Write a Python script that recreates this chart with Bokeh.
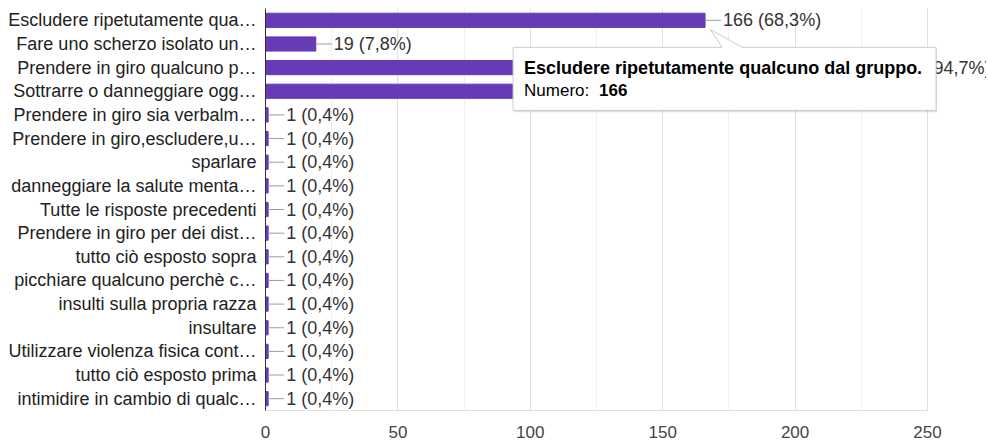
from bokeh.plotting import figure
from bokeh.models import FactorRange, Range1d, FixedTicker
from bokeh.embed import file_html
from bokeh.resources import INLINE
from bokeh.core.properties import value

# ---------------- data ----------------
categories = [
    "Escludere ripetutamente qua…",
    "Fare uno scherzo isolato un…",
    "Prendere in giro qualcuno p…",
    "Sottrarre o danneggiare ogg…",
    "Prendere in giro sia verbalm…",
    "Prendere in giro,escludere,u…",
    "sparlare",
    "danneggiare la salute menta…",
    "Tutte le risposte precedenti",
    "Prendere in giro per dei dist…",
    "tutto ciò esposto sopra",
    "picchiare qualcuno perchè c…",
    "insulti sulla propria razza",
    "insultare",
    "Utilizzare violenza fisica cont…",
    "tutto ciò esposto prima",
    "intimidire in cambio di qualc…",
]
counts = [166, 19, 230, 173, 1, 1, 1, 1, 1, 1, 1, 1, 1, 1, 1, 1, 1]
total_responses = 243
x_ticks = [0, 50, 100, 150, 200, 250]
x_minor_ticks = [25, 75, 125, 175, 225]
tooltip_index = 0
tooltip_title = "Escludere ripetutamente qualcuno dal gruppo."
tooltip_key = "Numero: "

labels = [
    ("%d (%.1f%%)" % (c, c * 100.0 / total_responses)).replace(".", ",")
    for c in counts
]

# ---------------- layout ----------------
W, H = 986, 440
BL, BT, BB = 265, 8, 30
X_PIX_250 = 662                       # pixel length of the 0..250 span
frame_w = W - BL
frame_h = H - BT - BB
ppu = X_PIX_250 / x_ticks[-1]         # pixels per x unit
X_END = frame_w / ppu
ppc = frame_h / len(categories)       # pixels per category
FONT = value("Liberation Sans")

p = figure(
    width=W, height=H,
    y_range=FactorRange(factors=categories[::-1]),
    x_range=Range1d(0, X_END),
    output_backend="svg", toolbar_location=None,
    min_border_left=BL, min_border_right=0, min_border_top=BT, min_border_bottom=BB,
)
p.outline_line_color = None
p.background_fill_color = "white"

p.hbar(y=categories, right=counts, height=0.6, color="#673ab7")

leader = 16 / ppu
p.segment(x0=counts, y0=categories, x1=[c + leader for c in counts], y1=categories,
          line_color="#9e9e9e", line_width=1)
p.text(x=counts, y=categories, text=labels, x_offset=18, text_baseline="middle",
       text_font=FONT, text_font_size="18px", text_color="#333333")

# ---------------- tooltip ----------------
n = len(categories)
ax = counts[tooltip_index]
ay = n - 0.5 - tooltip_index


def pt(dx, dy):
    return ax + dx / ppu, ay - dy / ppc


box = [(-192, 27), (17, 27), (5, 9), (37, 27), (231, 27), (231, 90), (-192, 90)]
sh = [pt(dx + 1, dy + 2) for dx, dy in box]
p.patch([q[0] for q in sh], [q[1] for q in sh], fill_color="black", fill_alpha=0.12,
        line_color=None)
bx = [pt(dx, dy) for dx, dy in box]
p.patch([q[0] for q in bx], [q[1] for q in bx], fill_color="white",
        line_color="#cccccc", line_width=1)

tx, ty1 = pt(-181, 48)
_, ty2 = pt(-181, 70)
p.text(x=[tx], y=[ty1], text=[tooltip_title], text_baseline="middle",
       text_font=FONT, text_font_size="18px", text_font_style="bold", text_color="#000000")
p.text(x=[tx], y=[ty2], text=[tooltip_key], text_baseline="middle",
       text_font=FONT, text_font_size="17px", text_color="#000000")
p.text(x=[tx], y=[ty2], text=[str(counts[tooltip_index])], x_offset=75, text_baseline="middle",
       text_font=FONT, text_font_size="17px", text_font_style="bold", text_color="#000000")

# ---------------- axes / grid ----------------
p.yaxis.major_tick_line_color = None
p.yaxis.minor_tick_line_color = None
p.yaxis.axis_line_color = "#333333"
p.yaxis.major_label_text_font = "Liberation Sans"
p.yaxis.major_label_text_font_size = "18px"
p.yaxis.major_label_text_color = "#222222"
p.yaxis.major_label_standoff = 3

p.xaxis.ticker = FixedTicker(ticks=x_ticks, minor_ticks=x_minor_ticks)
p.xaxis.major_tick_line_color = None
p.xaxis.minor_tick_line_color = None
p.xaxis.axis_line_color = "#e0e0e0"
p.xaxis.bounds = (x_ticks[0], x_ticks[-1])
p.xaxis.major_label_text_font = "Liberation Sans"
p.xaxis.major_label_text_font_size = "17px"
p.xaxis.major_label_text_color = "#444444"
p.xaxis.major_label_standoff = 9

p.xgrid.grid_line_color = "#e0e0e0"
p.xgrid.minor_grid_line_color = "#f0f0f0"
p.ygrid.grid_line_color = None

open("out.html", "w").write(file_html(p, INLINE))
